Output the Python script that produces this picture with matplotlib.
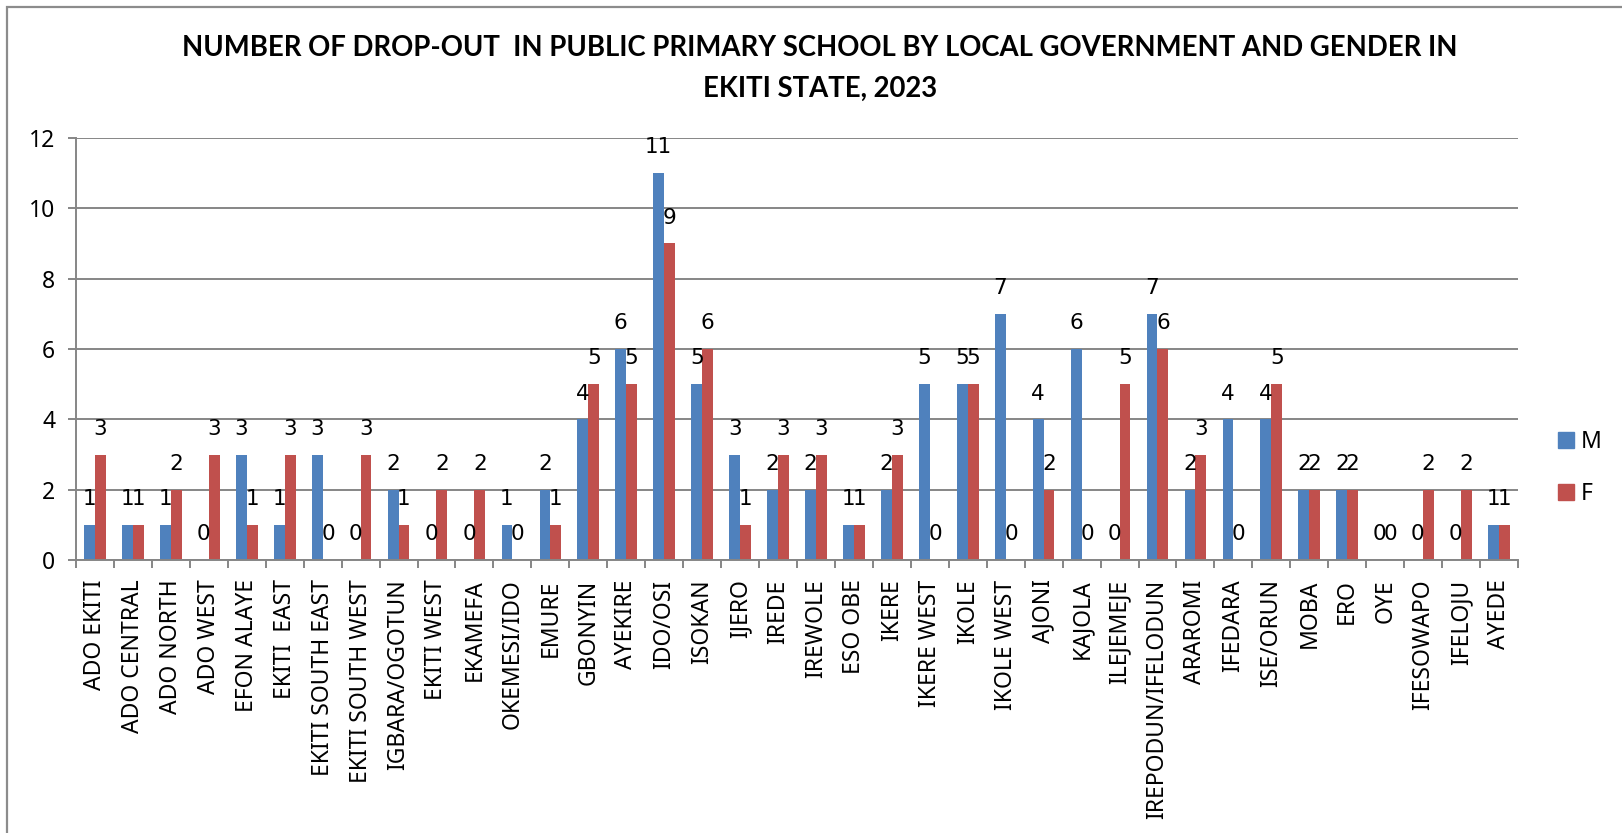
import numpy as np
import matplotlib
matplotlib.use("Agg")
import matplotlib.pyplot as plt
from matplotlib.patches import Patch, Rectangle

# local governments and drop-out counts
lgas = ["ADO EKITI", "ADO CENTRAL", "ADO NORTH", "ADO WEST", "EFON ALAYE",
        "EKITI  EAST", "EKITI SOUTH EAST", "EKITI SOUTH WEST", "IGBARA/OGOTUN",
        "EKITI WEST", "EKAMEFA", "OKEMESI/IDO", "EMURE", "GBONYIN", "AYEKIRE",
        "IDO/OSI", "ISOKAN", "IJERO", "IREDE", "IREWOLE", "ESO OBE", "IKERE",
        "IKERE WEST", "IKOLE", "IKOLE WEST", "AJONI", "KAJOLA", "ILEJEMEJE",
        "IREPODUN/IFELODUN", "ARAROMI", "IFEDARA", "ISE/ORUN", "MOBA", "ERO",
        "OYE", "IFESOWAPO", "IFELOJU", "AYEDE"]
male = [1, 1, 1, 0, 3, 1, 3, 0, 2, 0, 0, 1, 2, 4, 6, 11, 5, 3, 2, 2, 1, 2,
        5, 5, 7, 4, 6, 0, 7, 2, 4, 4, 2, 2, 0, 0, 0, 1]
female = [3, 1, 2, 3, 1, 3, 0, 3, 1, 2, 2, 0, 1, 5, 5, 9, 6, 1, 3, 3, 1, 3,
          0, 5, 0, 2, 0, 5, 6, 3, 0, 5, 2, 2, 0, 2, 2, 1]
series_names = ["M", "F"]
yticks = [0, 2, 4, 6, 8, 10, 12]

BLUE = "#4F81BD"
RED = "#C0504D"
GRID = "#868686"
W, H = 1622, 833

fig = plt.figure(figsize=(W / 100, H / 100), dpi=100)
ax = fig.add_axes([76 / W, 1 - 560 / H, (1518 - 76) / W, (560 - 138) / H])

x = np.arange(len(lgas))
bw = 1 / 3.5
b1 = ax.bar(x - bw / 2, male, bw, color=BLUE, zorder=3)
b2 = ax.bar(x + bw / 2, female, bw, color=RED, zorder=3)

for bars, vals in ((b1, male), (b2, female)):
    for r, v in zip(bars, vals):
        ax.annotate(str(v), (r.get_x() + r.get_width() / 2, v),
                    xytext=(0, 18.5), textcoords="offset points",
                    ha="center", va="center", fontsize=15.5,
                    family="DejaVu Sans", color="black")

ax.set_xlim(-0.5, len(lgas) - 0.5)
ax.set_ylim(0, 12)
ax.set_yticks(yticks)
ax.set_yticklabels([str(t) for t in yticks], family="Noto Sans", fontsize=16.5)
ax.set_xticks(x)
ax.set_xticklabels(lgas, rotation=90, family="Noto Sans", fontsize=16.5)
ax.set_xticks(np.arange(len(lgas) + 1) - 0.5, minor=True)
ax.tick_params(axis="x", which="major", length=0, pad=14)
ax.tick_params(axis="x", which="minor", length=6, width=1.4, color=GRID)
ax.tick_params(axis="y", length=6, width=1.4, color=GRID, pad=9)

ax.yaxis.grid(True, color=GRID, linewidth=1.4, zorder=0)
ax.set_axisbelow(True)
for s in ("top", "right"):
    ax.spines[s].set_visible(False)
for s in ("left", "bottom"):
    ax.spines[s].set_color(GRID)
    ax.spines[s].set_linewidth(1.4)
ax.spines["bottom"].set_zorder(4)

handles = [Patch(color=BLUE), Patch(color=RED)]
fig.legend(handles, series_names, loc="center left",
           bbox_to_anchor=(1558 / W, 1 - 468 / H), frameon=False,
           prop={"family": "Noto Sans", "size": 16.5},
           handlelength=0.7, handleheight=0.7, handletextpad=0.3,
           labelspacing=1.2, borderpad=0, borderaxespad=0)

fig.text(820 / W, 1 - 48 / H,
         "NUMBER OF DROP-OUT  IN PUBLIC PRIMARY SCHOOL BY LOCAL GOVERNMENT AND GENDER IN",
         ha="center", va="center", fontsize=19.8, fontweight="bold", family="Lato")
fig.text(820 / W, 1 - 89 / H, "EKITI STATE, 2023",
         ha="center", va="center", fontsize=19.8, fontweight="bold", family="Lato")

# chart border (only top and left edges are visible in the reference)
fig.add_artist(Rectangle((7 / W, -0.1), 1.2, 1 - 7 / H + 0.1,
                         transform=fig.transFigure, fill=False,
                         edgecolor="#8C8C8C", linewidth=1.6))

fig.savefig("out.png", dpi=100)
